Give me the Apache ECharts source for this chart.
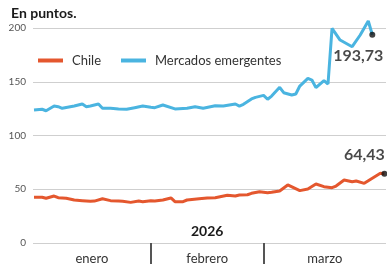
<!DOCTYPE html>
<html>
<head>
<meta charset="utf-8">
<script src="https://cdn.jsdelivr.net/npm/echarts@6/dist/echarts.min.js"></script>
<style>
  html, body { margin: 0; padding: 0; background: #fff; }
  #main { width: 387px; height: 269px; }
</style>
</head>
<body>
<div id="main"></div>
<script>
// Mercados emergentes vs Chile, 2026 (en puntos)
const emergDates = [
	"2026-01-03", "2026-01-05", "2026-01-06", "2026-01-08", "2026-01-09", "2026-01-10",
	"2026-01-13", "2026-01-15", "2026-01-16", "2026-01-17", "2026-01-19", "2026-01-20",
	"2026-01-22", "2026-01-24", "2026-01-26", "2026-01-28", "2026-01-30", "2026-02-01",
	"2026-02-02", "2026-02-04", "2026-02-07", "2026-02-10", "2026-02-12", "2026-02-14",
	"2026-02-17", "2026-02-19", "2026-02-22", "2026-02-23", "2026-02-24", "2026-02-26",
	"2026-02-27", "2026-03-01", "2026-03-02", "2026-03-03", "2026-03-05", "2026-03-06",
	"2026-03-08", "2026-03-09", "2026-03-10", "2026-03-12", "2026-03-13", "2026-03-14",
	"2026-03-16", "2026-03-17", "2026-03-18", "2026-03-20", "2026-03-23", "2026-03-25",
	"2026-03-27", "2026-03-28",
];
const emergValues = [
	123.7, 124.4, 123.0, 127.4, 126.8, 125.3,
	127.4, 129.3, 126.8, 127.4, 129.3, 125.3,
	125.3, 124.7, 124.4, 125.9, 127.4, 126.2,
	125.9, 128.4, 124.7, 125.3, 126.8, 125.3,
	127.7, 127.4, 129.3, 127.4, 129.0, 134.0,
	135.5, 137.3, 133.7, 136.7, 144.8, 139.8,
	137.7, 138.6, 146.0, 153.2, 151.6, 144.5,
	151.0, 147.9, 199.7, 188.8, 182.6, 193.5,
	206.5, 193.73,
];

const chileDates = [
	"2026-01-03", "2026-01-05", "2026-01-06", "2026-01-08", "2026-01-09", "2026-01-11",
	"2026-01-13", "2026-01-15", "2026-01-17", "2026-01-18", "2026-01-20", "2026-01-22",
	"2026-01-24", "2026-01-25", "2026-01-27", "2026-01-29", "2026-01-30", "2026-02-01",
	"2026-02-02", "2026-02-04", "2026-02-06", "2026-02-07", "2026-02-09", "2026-02-10",
	"2026-02-13", "2026-02-15", "2026-02-17", "2026-02-20", "2026-02-22", "2026-02-23",
	"2026-02-25", "2026-02-26", "2026-02-28", "2026-03-02", "2026-03-03", "2026-03-05",
	"2026-03-07", "2026-03-10", "2026-03-12", "2026-03-14", "2026-03-16", "2026-03-18",
	"2026-03-19", "2026-03-21", "2026-03-23", "2026-03-24", "2026-03-26", "2026-03-28",
	"2026-03-30", "2026-03-31",
];
const chileValues = [
	42.5, 42.5, 41.6, 43.7, 42.1, 41.6,
	40.0, 39.4, 38.8, 39.0, 41.2, 39.4,
	39.0, 38.8, 37.8, 39.0, 38.4, 39.4,
	39.0, 40.0, 41.9, 38.4, 38.4, 40.0,
	41.2, 41.9, 42.1, 44.4, 43.7, 44.7,
	44.9, 46.2, 47.7, 46.8, 47.2, 48.4,
	54.0, 48.7, 50.2, 54.9, 52.4, 51.4,
	53.0, 58.6, 57.0, 57.7, 55.5, 60.2,
	64.8, 64.43,
];

const monthNames = ["enero", "febrero", "marzo"];
const monthStarts = ["2026-01-01", "2026-02-01", "2026-03-01", "2026-04-01"];
const yTicks = [0, 50, 100, 150, 200];

const ORANGE = "#e4572e";
const BLUE = "#4ab4e0";

function dayIndex(s) {
	const [y, m, d] = s.split("-").map(Number);
	return (Date.UTC(y, m - 1, d) - Date.UTC(2026, 0, 1)) / 86400000;
}
function fmt(v) {
	return v.toFixed(2).replace(".", ",");
}

const starts = monthStarts.map(dayIndex);
const xMin = 1.75;
const xMax = starts[3] - 0.6;
const monthMids = monthNames.map((_, i) => (Math.max(starts[i], xMin) + Math.min(starts[i + 1], xMax)) / 2);

const chileData = chileDates.map((d, i) => [dayIndex(d), chileValues[i]]);
const emergData = emergDates.map((d, i) => [dayIndex(d), emergValues[i]]);
const chileLast = chileData[chileData.length - 1];
const emergLast = emergData[emergData.length - 1];

const font = "Lato";

let myChart = echarts.init(document.getElementById("main"));

myChart.setOption({
	animation: false,
	textStyle: { fontFamily: font },
	title: {
		text: "En puntos.",
		left: 6,
		top: 1,
		textStyle: { fontFamily: font, fontSize: 14, fontWeight: "bold", color: "#1a1a1a" },
	},
	legend: {
		left: 33,
		top: 49,
		itemWidth: 25,
		itemHeight: 4,
		itemGap: 20,
		icon: "rect",
		data: ["Chile", "Mercados emergentes"],
		textStyle: { fontFamily: font, fontSize: 13, color: "#333", padding: [0, 0, 0, 4] },
	},
	grid: { left: 33, right: 1, top: 28, bottom: 26 },
	xAxis: {
		type: "value",
		min: xMin,
		max: xMax,
		splitLine: { show: false },
		axisLine: { show: false },
		axisTick: {
			show: true,
			customValues: [starts[1], starts[2]],
			length: 21,
			lineStyle: { color: "#555", width: 2 },
		},
		axisLabel: {
			customValues: monthMids,
			margin: 9,
			fontFamily: font,
			fontSize: 13,
			color: "#333",
			formatter: (v) => {
				let best = 0;
				monthMids.forEach((m, i) => {
					if (Math.abs(m - v) < Math.abs(monthMids[best] - v)) best = i;
				});
				return monthNames[best];
			},
		},
	},
	yAxis: {
		type: "value",
		min: yTicks[0],
		max: yTicks[yTicks.length - 1],
		interval: 50,
		axisLine: { show: false },
		axisTick: { show: false },
		axisLabel: { margin: 7, fontFamily: font, fontSize: 10, color: "#555" },
		splitLine: { lineStyle: { color: "#cfcfcf", width: 1 } },
	},
	graphic: [
		{
			type: "text",
			left: 191,
			top: 224,
			style: { text: "2026", font: "bold 14px Lato", fill: "#1a1a1a" },
		},
	],
	series: [
		{
			name: "Chile",
			type: "line",
			data: chileData,
			showSymbol: false,
			clip: false,
			color: ORANGE,
			lineStyle: { width: 3, color: ORANGE },
			z: 3,
		},
		{
			name: "Mercados emergentes",
			type: "line",
			data: emergData,
			showSymbol: false,
			clip: false,
			color: BLUE,
			lineStyle: { width: 3, color: BLUE },
			z: 2,
		},
		{
			type: "scatter",
			data: [chileLast],
			symbolSize: 6,
			itemStyle: { color: "#111" },
			label: {
				show: true,
				formatter: () => fmt(chileLast[1]),
				position: "top",
				offset: [-20, -3],
				fontFamily: font,
				fontSize: 16,
				fontWeight: "bold",
				color: "#1a1a1a",
			},
			z: 5,
		},
		{
			type: "scatter",
			data: [emergLast],
			symbolSize: 6,
			itemStyle: { color: "#111" },
			label: {
				show: true,
				formatter: () => fmt(emergLast[1]),
				position: "bottom",
				offset: [-14, 5],
				fontFamily: font,
				fontSize: 16,
				fontWeight: "bold",
				color: "#1a1a1a",
			},
			z: 5,
		},
	],
});
</script>
</body>
</html>
